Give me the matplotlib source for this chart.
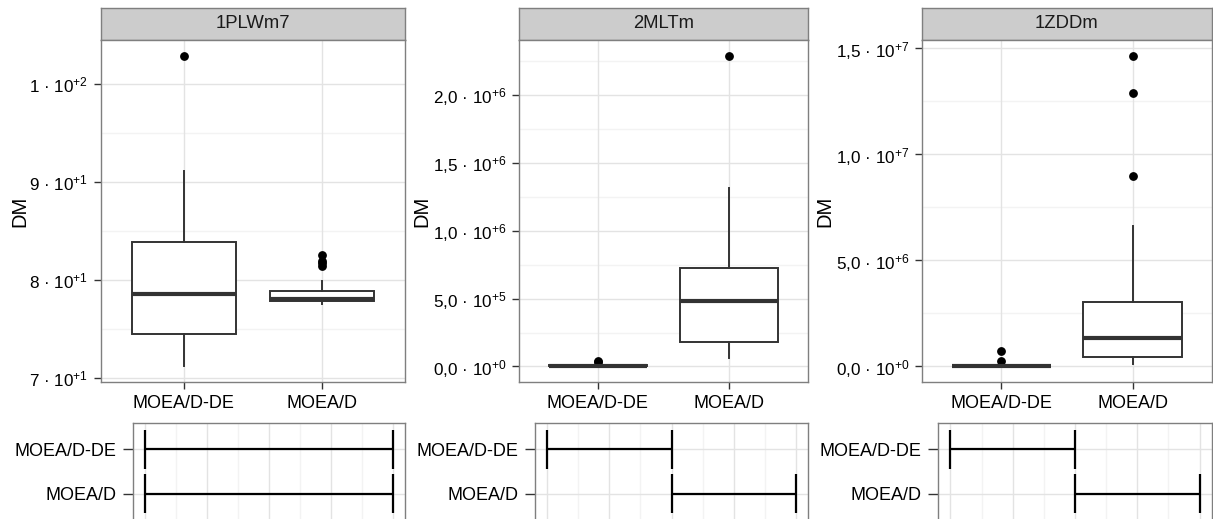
import matplotlib
matplotlib.use('Agg')
import matplotlib.pyplot as plt

plt.rcParams['font.family'] = ['Liberation Sans', 'DejaVu Sans']
plt.rcParams['mathtext.fontset'] = 'custom'
plt.rcParams['mathtext.rm'] = 'Liberation Sans'
plt.rcParams['mathtext.it'] = 'Liberation Sans:italic'
plt.rcParams['mathtext.bf'] = 'Liberation Sans:bold'

W, H = 1213, 519

# ---------------- data ----------------
algorithms = ['MOEA/D-DE', 'MOEA/D']
problems = ['1PLWm7', '2MLTm', '1ZDDm']

# problem 1 : 1PLWm7
p1_whislo = [71.2, 77.6]
p1_q1 = [74.5, 77.85]
p1_med = [78.6, 78.1]
p1_q3 = [83.9, 78.9]
p1_whishi = [91.1, 79.9]
p1_fliers = [[102.9], [81.4, 81.7, 82.0, 82.6]]
p1_ticks = [70, 80, 90, 100]
p1_ticklabels = ['7 · 10$^{+1}$', '8 · 10$^{+1}$', '9 · 10$^{+1}$', '1 · 10$^{+2}$']

# problem 2 : 2MLTm
p2_whislo = [0.0, 0.062e6]
p2_q1 = [0.002e6, 0.179e6]
p2_med = [0.005e6, 0.483e6]
p2_q3 = [0.008e6, 0.726e6]
p2_whishi = [0.015e6, 1.316e6]
p2_fliers = [[0.03e6, 0.042e6], [2.29e6]]
p2_ticks = [0.0, 0.5e6, 1.0e6, 1.5e6, 2.0e6]
p2_ticklabels = ['0,0 · 10$^{+0}$', '5,0 · 10$^{+5}$', '1,0 · 10$^{+6}$',
                 '1,5 · 10$^{+6}$', '2,0 · 10$^{+6}$']

# problem 3 : 1ZDDm
p3_whislo = [0.0, 0.11e6]
p3_q1 = [0.01e6, 0.44e6]
p3_med = [0.02e6, 1.36e6]
p3_q3 = [0.04e6, 3.04e6]
p3_whishi = [0.08e6, 6.61e6]
p3_fliers = [[0.28e6, 0.71e6], [8.97e6, 12.9e6, 14.66e6]]
p3_ticks = [0.0, 5.0e6, 1.0e7, 1.5e7]
p3_ticklabels = ['0,0 · 10$^{+0}$', '5,0 · 10$^{+6}$', '1,0 · 10$^{+7}$', '1,5 · 10$^{+7}$']

# rank intervals (lower panels): [start, end] per algorithm
p1_int_lo = [1.0, 1.0]
p1_int_hi = [2.0, 2.0]
p2_int_lo = [1.0, 1.5]
p2_int_hi = [1.5, 2.0]
p3_int_lo = [1.0, 1.5]
p3_int_hi = [1.5, 2.0]

# ---------------- layout (pixels) ----------------
main_boxes = [(101, 40, 405, 382), (519, 40, 808, 382), (922, 40, 1212, 382)]
strip_top = 8
low_boxes = [(133, 423, 405, 520), (535, 423, 808, 520), (938, 423, 1212, 520)]
ylabel_x = [20, 422, 825]

BORDER = '#7F7F7F'
MAJ = '#E3E3E3'
MIN = '#F3F3F3'
DARK = '#333333'
XFS = 13.0
YFS = 12.3

fig = plt.figure(figsize=(W / 100, H / 100), dpi=100)


def add_ax(box):
    l, t, r, b = box
    return fig.add_axes([l / W, 1 - b / H, (r - l) / W, (b - t) / H])


panels = [
    (p1_whislo, p1_q1, p1_med, p1_q3, p1_whishi, p1_fliers, p1_ticks, p1_ticklabels, p1_int_lo, p1_int_hi),
    (p2_whislo, p2_q1, p2_med, p2_q3, p2_whishi, p2_fliers, p2_ticks, p2_ticklabels, p2_int_lo, p2_int_hi),
    (p3_whislo, p3_q1, p3_med, p3_q3, p3_whishi, p3_fliers, p3_ticks, p3_ticklabels, p3_int_lo, p3_int_hi),
]

for i, (wlo, q1, med, q3, whi, fl, ticks, tlabels, ilo, ihi) in enumerate(panels):
    # ---- strip ----
    l, t, r, b = main_boxes[i]
    sax = add_ax((l, strip_top, r, t))
    sax.set_facecolor('#CCCCCC')
    sax.set_xticks([]); sax.set_yticks([])
    for s in sax.spines.values():
        s.set_color(BORDER); s.set_linewidth(1.0)
    sax.text(0.5, 0.5, problems[i], ha='center', va='center', fontsize=13.3,
             transform=sax.transAxes, color='#1A1A1A')

    # ---- main boxplot ----
    ax = add_ax(main_boxes[i])
    stats = []
    for j, alg in enumerate(algorithms):
        stats.append(dict(med=med[j], q1=q1[j], q3=q3[j], whislo=wlo[j],
                          whishi=whi[j], fliers=fl[j], label=alg))
    ax.bxp(stats, positions=[1, 2], widths=0.75, showcaps=False, patch_artist=True,
           boxprops=dict(facecolor='white', edgecolor=DARK, linewidth=1.4),
           medianprops=dict(color=DARK, linewidth=3.0, solid_capstyle='butt'),
           whiskerprops=dict(color=DARK, linewidth=1.4),
           flierprops=dict(marker='o', markerfacecolor='black', markeredgecolor='black',
                           markersize=5.3, linestyle='none'))
    allv = wlo + whi + [v for f in fl for v in f]
    lo, hi = min(allv), max(allv)
    pad = 0.05 * (hi - lo)
    ax.set_ylim(lo - pad, hi + pad)
    ax.set_xlim(0.4, 2.6)
    ax.set_xticks([1, 2])
    ax.set_xticklabels(algorithms, fontsize=XFS)
    ax.set_yticks(ticks)
    ax.set_yticklabels(tlabels, fontsize=YFS)
    step = ticks[1] - ticks[0]
    minors = [ticks[0] - step / 2] + [tk + step / 2 for tk in ticks]
    minors = [m for m in minors if lo - pad < m < hi + pad]
    for m in minors:
        ax.axhline(m, color=MIN, lw=1.0, zorder=0)
    for tk in ticks:
        ax.axhline(tk, color=MAJ, lw=1.0, zorder=0.5)
    for xk in [1, 2]:
        ax.axvline(xk, color=MAJ, lw=1.0, zorder=0.5)
    ax.tick_params(axis='both', length=5, width=1.0, color=DARK, pad=4, labelcolor='black')
    for s in ax.spines.values():
        s.set_color(BORDER); s.set_linewidth(1.0)
    fig.text(ylabel_x[i] / W, 1 - 211 / H, 'DM', rotation=90, ha='center', va='center',
             fontsize=14.5)

    # ---- lower interval panel ----
    lax = add_ax(low_boxes[i])
    ypos = [1, 2]
    dlo, dhi = min(ilo), max(ihi)
    xpad = 0.05 * (dhi - dlo)
    lax.set_xlim(dlo - xpad, dhi + xpad)
    lax.set_ylim(2.6, 0.4)
    n = 8
    for k in range(n + 1):
        xv = dlo + (dhi - dlo) * k / n
        lax.axvline(xv, color=MAJ if k % 2 == 0 else MIN, lw=1.0, zorder=0)
    for yv in ypos:
        lax.axhline(yv, color=MAJ, lw=1.0, zorder=0)
    lax.hlines(ypos, ilo, ihi, color='black', lw=1.6, zorder=3)
    half = 0.45
    lax.vlines(ilo, [y - half for y in ypos], [y + half for y in ypos], color='black', lw=1.6, zorder=3)
    lax.vlines(ihi, [y - half for y in ypos], [y + half for y in ypos], color='black', lw=1.6, zorder=3)
    lax.set_yticks(ypos)
    lax.set_yticklabels(algorithms, fontsize=XFS)
    lax.set_xticks([])
    lax.tick_params(axis='y', length=7.5, width=1.0, color=DARK, pad=4.5, labelcolor='black')
    for s in lax.spines.values():
        s.set_color(BORDER); s.set_linewidth(1.0)

fig.savefig('out.png', dpi=100)
